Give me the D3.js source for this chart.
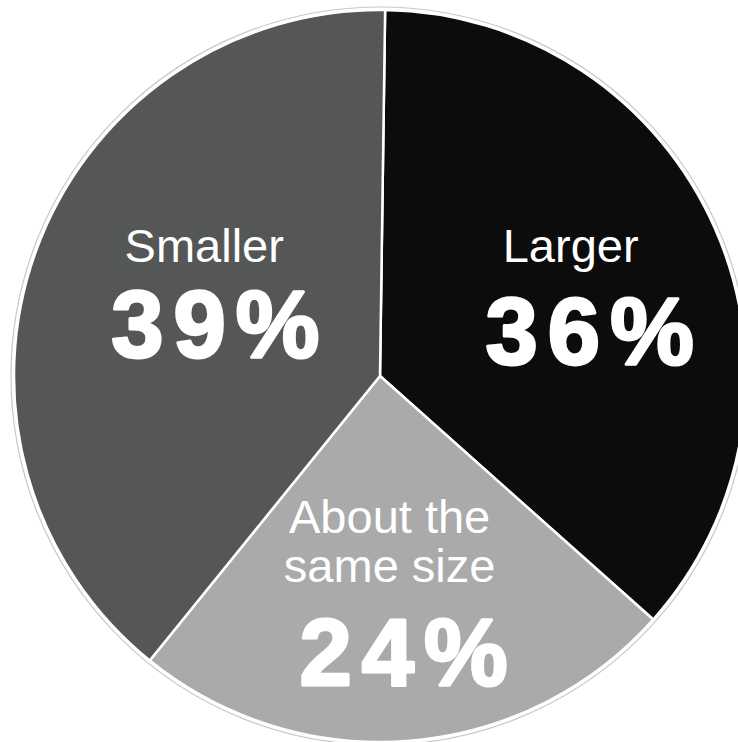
<!DOCTYPE html>
<html>
<head>
<meta charset="utf-8">
<script src="https://cdn.jsdelivr.net/npm/d3@7"></script>
<style>
    html, body { margin: 0; padding: 0; background: #fff; }
    svg { display: block; }
</style>
</head>
<body>
<svg id="chart" width="738" height="742"></svg>
<script>
// data
const categories = ["Larger", "About the same size", "Smaller"];
const nameLines = [["Larger"], ["About the", "same size"], ["Smaller"]];
const values = [36, 24, 39];
const colors = ["#0c0c0c", "#a9aaa9", "#555756"];

const width = 738;
const height = 742;
const cx = 380;
const cy = 376;
const radius = 366;
const pctSpacing = 10;

// per-slice label nudges relative to the centroid (pct baseline)
const nudges = [
    { dx: 22, dy: 71, nameDx: -19, nameDy: [-102] },
    { dx: 7, dy: 105, nameDx: -14, nameDy: [-152, -103] },
    { dx: 28, dy: 51, nameDx: -11, nameDy: [-95] },
];

const svg = d3.select("#chart");
const g = svg.append("g").attr("transform", `translate(${cx},${cy})`);

const pie = d3
    .pie()
    .sort(null)
    .startAngle(0.014)
    .endAngle(0.014 + 2 * Math.PI);
const arcs = pie(values);

const arc = d3.arc().innerRadius(0).outerRadius(radius);
const labelArc = d3.arc().innerRadius(205).outerRadius(205);

// faint outer ring
g.append("circle")
    .attr("r", radius + 3)
    .attr("fill", "none")
    .attr("stroke", "#c8c8c8")
    .attr("stroke-width", 1.2);

g.selectAll("path.slice")
    .data(arcs)
    .enter()
    .append("path")
    .attr("class", "slice")
    .attr("d", arc)
    .attr("fill", (d, i) => colors[i])
    .attr("stroke", "#fff")
    .attr("stroke-width", 2.5)
    .attr("stroke-linejoin", "round");

const labels = g
    .selectAll("g.label")
    .data(arcs)
    .enter()
    .append("g")
    .attr("class", "label")
    .attr("transform", (d, i) => {
        const [x, y] = labelArc.centroid(d);
        return `translate(${x + nudges[i].dx},${y + nudges[i].dy})`;
    });

labels.each(function (d, i) {
    const lab = d3.select(this);
    nameLines[i].forEach((line, j) => {
        lab.append("text")
            .attr("x", nudges[i].nameDx)
            .attr("y", nudges[i].nameDy[j])
            .attr("text-anchor", "middle")
            .attr("fill", "#fff")
            .style("font-family", "'Liberation Sans', Arial, sans-serif")
            .style("font-size", "47px")
            .text(line);
    });
    // bold numbers are heavier in the original, thicken with a stroke
    lab.append("text")
        .attr("x", pctSpacing / 2)
        .attr("y", 0)
        .attr("text-anchor", "middle")
        .attr("fill", "#fff")
        .attr("stroke", "#fff")
        .attr("stroke-width", 3)
        .attr("stroke-linejoin", "round")
        .style("font-family", "'Liberation Sans', Arial, sans-serif")
        .style("font-size", "94px")
        .style("font-weight", "bold")
        .style("letter-spacing", `${pctSpacing}px`)
        .text(`${d.data}%`);
});
</script>
</body>
</html>
